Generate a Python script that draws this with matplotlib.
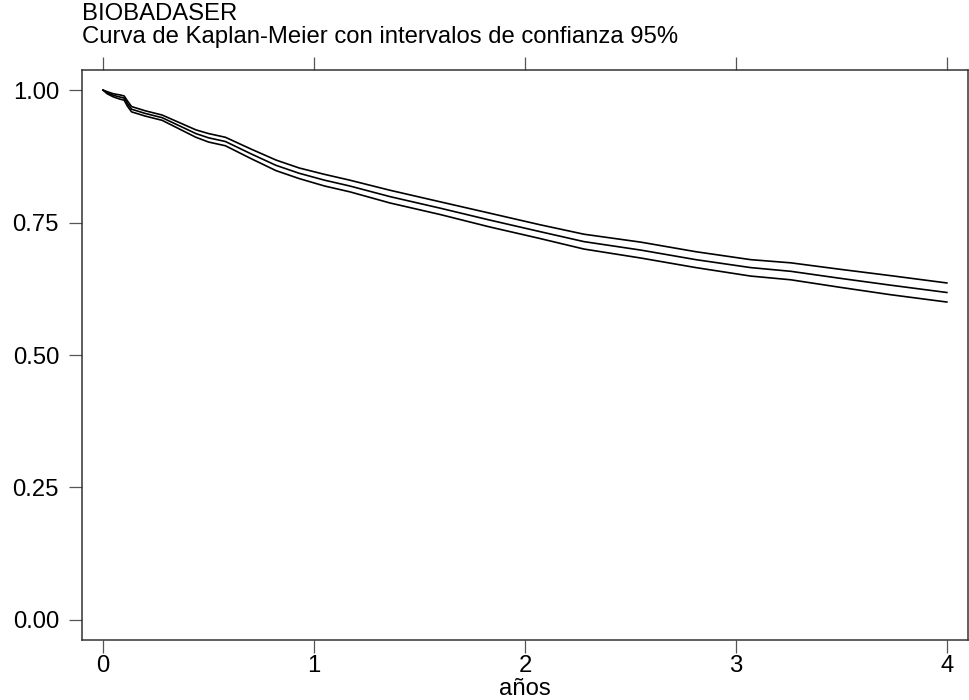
import numpy as np
import matplotlib
matplotlib.use("Agg")
import matplotlib.pyplot as plt

plt.rcParams['font.family'] = ['Liberation Sans', 'DejaVu Sans']

# tiempo (años) y supervivencia
t = [0.0, 0.02, 0.05, 0.08, 0.10, 0.115, 0.135, 0.2, 0.28, 0.36, 0.44, 0.5,
     0.58, 0.7, 0.82, 0.93, 1.05, 1.17, 1.36, 1.6, 1.83, 2.07, 2.28, 2.55,
     2.81, 3.07, 3.26, 3.49, 3.73, 4.0]
km = [1.0, 0.995, 0.99, 0.987, 0.985, 0.975, 0.964, 0.956, 0.948, 0.933, 0.918, 0.910,
      0.903, 0.880, 0.858, 0.843, 0.830, 0.819, 0.799, 0.777, 0.755, 0.733, 0.714, 0.698,
      0.680, 0.665, 0.658, 0.645, 0.632, 0.618]
km_sup = [1.0, 0.997, 0.993, 0.991, 0.989, 0.980, 0.969, 0.961, 0.953, 0.939, 0.925, 0.918,
          0.911, 0.889, 0.868, 0.853, 0.841, 0.830, 0.811, 0.789, 0.768, 0.746, 0.728, 0.713,
          0.695, 0.680, 0.674, 0.662, 0.650, 0.636]
km_inf = [1.0, 0.993, 0.987, 0.983, 0.981, 0.970, 0.959, 0.951, 0.943, 0.927, 0.911, 0.902,
          0.895, 0.871, 0.848, 0.833, 0.819, 0.808, 0.787, 0.765, 0.742, 0.720, 0.700, 0.683,
          0.665, 0.649, 0.642, 0.628, 0.614, 0.600]

xticks = [0, 1, 2, 3, 4]
yticks = [0.0, 0.25, 0.5, 0.75, 1.0]
ylabels = ["0.00", "0.25", "0.50", "0.75", "1.00"]

fig = plt.figure(figsize=(9.69, 7.0), dpi=100)
ax = fig.add_axes([0.0846, 0.0857, 0.9143, 0.8143])

for s in (km_sup, km, km_inf):
    ax.plot(t, s, color='black', lw=1.2)

ax.set_xlim(-0.1, 4.1)
ax.set_ylim(-0.038, 1.038)
ax.set_xticks(xticks)
ax.set_yticks(yticks)
ax.set_yticklabels(ylabels)
ax.tick_params(axis='both', direction='out', length=9.5, width=0.9, color='#555555',
               labelsize=17.2)
ax.tick_params(axis='y', pad=7)
ax.tick_params(axis='x', pad=1, top=True, labeltop=False)
ax.tick_params(axis='y', right=False)
for sp in ax.spines.values():
    sp.set_color('#333333')
    sp.set_linewidth(1.1)

ax.set_xlabel("años", fontsize=17.2, labelpad=1.2)

fig.text(0.0846, 0.971, "BIOBADASER", fontsize=17.2, ha='left', va='baseline')
fig.text(0.0846, 0.938, "Curva de Kaplan-Meier con intervalos de confianza 95%",
         fontsize=17.2, ha='left', va='baseline')

fig.savefig("out.png", dpi=100)
